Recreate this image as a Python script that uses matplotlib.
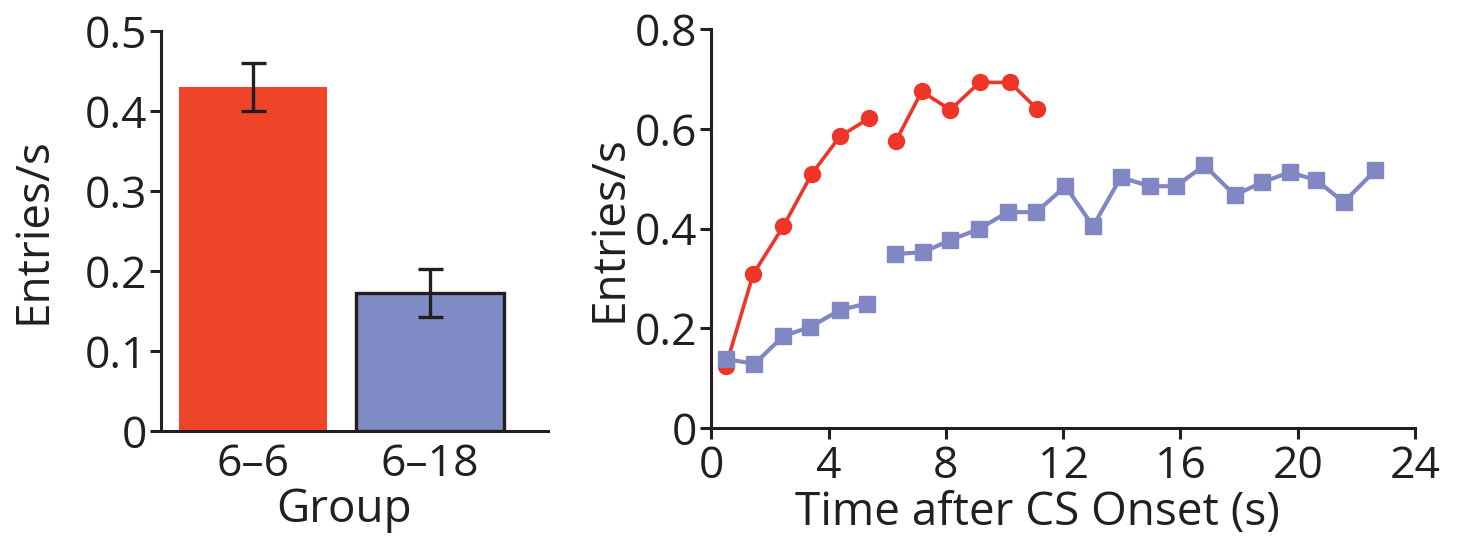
import numpy as np
import matplotlib
matplotlib.use("Agg")
import matplotlib.pyplot as plt
from matplotlib import font_manager as fm

# ---------------- data ----------------
groups = ["6\u20136", "6\u201318"]
bar_means = [0.43, 0.173]
bar_errs = [0.030, 0.030]

red_t1 = [0.50, 1.43, 2.46, 3.43, 4.39, 5.38]
red_v1 = [0.125, 0.309, 0.405, 0.510, 0.585, 0.621]
red_t2 = [6.29, 7.18, 8.15, 9.15, 10.19, 11.10]
red_v2 = [0.575, 0.675, 0.638, 0.693, 0.693, 0.640]

blue_t1 = [0.50, 1.47, 2.46, 3.37, 4.39, 5.30]
blue_v1 = [0.139, 0.129, 0.185, 0.203, 0.237, 0.250]
blue_t2 = [6.27, 7.23, 8.15, 9.12, 10.11, 11.08, 12.08, 13.02, 13.97, 14.95,
           15.84, 16.82, 17.85, 18.79, 19.73, 20.64, 21.57, 22.65]
blue_v2 = [0.349, 0.353, 0.377, 0.399, 0.433, 0.433, 0.485, 0.405, 0.503, 0.485,
           0.485, 0.527, 0.467, 0.493, 0.513, 0.497, 0.453, 0.517]

# ---------------- fonts ----------------
names = {f.name for f in fm.fontManager.ttflist}
main_font = "Open Sans" if "Open Sans" in names else "DejaVu Sans"
plt.rcParams["font.family"] = [main_font, "DejaVu Sans"]

INK = "#231F20"
RED_BAR = "#EE4529"
BLUE_BAR = "#7F8CC6"
RED_LINE = "#EE3528"
BLUE_LINE = "#8187C2"

TICK_FS = 32
LABEL_FS = 33

W, H = 1460, 536
fig = plt.figure(figsize=(W / 100, H / 100), dpi=100)

def px_axes(l, r, t, b):
    return fig.add_axes([l / W, (H - b) / H, (r - l) / W, (b - t) / H])

# ---------------- left: bars ----------------
ax1 = px_axes(160.7, 548, 31, 431)
xpos = np.arange(len(groups))
ax1.bar(xpos[0], bar_means[0], width=0.835, color=RED_BAR, edgecolor="none", zorder=2)
ax1.bar(xpos[1], bar_means[1], width=0.835, color=BLUE_BAR, edgecolor=INK, linewidth=2.4, zorder=2)
ax1.errorbar(xpos, bar_means, yerr=bar_errs, fmt="none", ecolor=INK,
             elinewidth=2.4, capsize=9, capthick=2.4, zorder=3)
ax1.set_xlim(-0.52, 1.668)
ax1.set_ylim(0, 0.5)
ax1.set_yticks([0, 0.1, 0.2, 0.3, 0.4, 0.5])
ax1.set_yticklabels(["0", "0.1", "0.2", "0.3", "0.4", "0.5"])
ax1.set_xticks(xpos)
ax1.set_xticklabels(groups)
ax1.set_xlabel("Group", fontsize=LABEL_FS, labelpad=0, color=INK)
ax1.xaxis.set_label_coords(0.473, -0.14)
ax1.set_ylabel("Entries/s", fontsize=LABEL_FS, labelpad=20, color=INK)

# ---------------- right: time course ----------------
ax2 = px_axes(711.3, 1415, 29, 428.3)
ax2.plot(blue_t1, blue_v1, color=BLUE_LINE, lw=3, marker="s", ms=11, mec=BLUE_LINE, zorder=3)
ax2.plot(blue_t2, blue_v2, color=BLUE_LINE, lw=3, marker="s", ms=11, mec=BLUE_LINE, zorder=3)
ax2.plot(red_t1, red_v1, color=RED_LINE, lw=2.6, marker="o", ms=11.5, mec=RED_LINE, zorder=2)
ax2.plot(red_t2, red_v2, color=RED_LINE, lw=2.6, marker="o", ms=11.5, mec=RED_LINE, zorder=2)
ax2.set_xlim(0, 24)
ax2.set_ylim(0, 0.8)
ax2.set_xticks([0, 4, 8, 12, 16, 20, 24])
ax2.set_yticks([0, 0.2, 0.4, 0.6, 0.8])
ax2.set_yticklabels(["0", "0.2", "0.4", "0.6", "0.8"])
ax2.set_ylabel("Entries/s", fontsize=LABEL_FS, labelpad=2, color=INK)
ax2.set_xlabel("Time after CS Onset (s)", fontsize=LABEL_FS, labelpad=0, color=INK)
ax2.xaxis.set_label_coords(0.463, -0.155)

for ax in (ax1, ax2):
    for s in ("top", "right"):
        ax.spines[s].set_visible(False)
    for s in ("left", "bottom"):
        ax.spines[s].set_linewidth(2.2)
        ax.spines[s].set_color(INK)
    ax.tick_params(axis="both", width=2.2, length=8, color=INK, labelcolor=INK,
                   labelsize=TICK_FS)
    ax.tick_params(axis="y", pad=2)

ax1.tick_params(axis="x", length=0, pad=8)
ax2.tick_params(axis="x", pad=4)

fig.savefig("out.png", dpi=100)
